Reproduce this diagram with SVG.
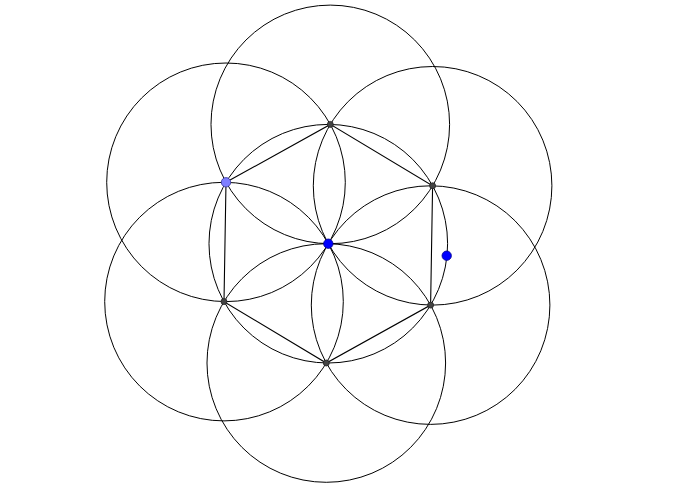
<svg xmlns="http://www.w3.org/2000/svg" width="700" height="500" viewBox="0 0 700 500">
<style>
.c{fill:none;stroke:#000;stroke-width:1}
.e{stroke:#000;stroke-width:1.1;fill:none}
.p{fill:#444;stroke:#222;stroke-width:0.8}
.b{fill:#0000ff;stroke:#00008b;stroke-width:0.8}
.lb{fill:#7f7fff;stroke:#333399;stroke-width:0.8}
</style>
<rect width="700" height="500" fill="#fff"/>
<g id="circles">
<circle class="c" cx="328.3" cy="243.7" r="119.3"/>
<circle class="c" cx="226" cy="182.3" r="119.3"/>
<circle class="c" cx="330.3" cy="124.4" r="119.3"/>
<circle class="c" cx="432.6" cy="185.8" r="119.3"/>
<circle class="c" cx="430.6" cy="305.1" r="119.3"/>
<circle class="c" cx="326.3" cy="363" r="119.3"/>
<circle class="c" cx="224" cy="301.6" r="119.3"/>
</g>
<g id="connectors">
<polygon class="e" points="226,182.3 330.3,124.4 432.6,185.8 430.6,305.1 326.3,363 224,301.6"/>
</g>
<g id="points">
<circle id="p1" class="p" cx="330.3" cy="124.4" r="3"/>
<circle id="p2" class="p" cx="432.6" cy="185.8" r="3"/>
<circle id="p3" class="p" cx="430.6" cy="305.1" r="3"/>
<circle id="p4" class="p" cx="326.3" cy="363" r="3"/>
<circle id="p5" class="p" cx="224" cy="301.6" r="3"/>
<circle id="A" class="lb" cx="226" cy="182.3" r="4.7"/>
<circle id="C" class="b" cx="328.3" cy="243.7" r="4.7"/>
<circle id="D" class="b" cx="446.7" cy="255.7" r="4.7"/>
</g>
</svg>
